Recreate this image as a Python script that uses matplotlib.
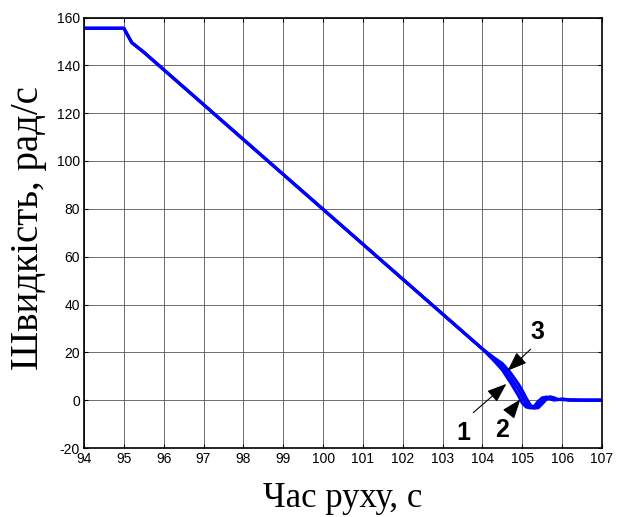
import matplotlib
matplotlib.use("Agg")
import matplotlib.pyplot as plt
import numpy as np

plt.rcParams["axes.unicode_minus"] = False

# time points (s)
t = [94, 95, 95.2, 95.5, 96, 97, 98, 99, 100, 101, 102, 103, 104, 104.3, 104.5,
     104.7, 104.9, 105.0, 105.1, 105.2, 105.3, 105.4, 105.5, 105.6, 105.7, 105.8,
     105.9, 106.0, 106.2, 106.5, 107]
common = [155.5, 155.5, 149.5, 145.5, 138.2, 123.6, 109.0, 94.4, 79.8, 65.2, 50.6, 36.0, 21.4]
w1 = common + [16.3, 12.6, 7.5, 2.0, -1.2, -2.9, -3.2, -2.5, -0.5, 1.0, 1.2, 0.5, 0.0, 0.3, 0.2, 0.0, 0.0, 0.0]
w2 = common + [17.0, 14.0, 9.5, 4.5, 1.5, -1.5, -3.2, -3.3, -2.0, 0.0, 1.3, 1.2, 0.4, 0.2, 0.4, 0.1, 0.0, 0.0]
w3 = common + [17.6, 15.3, 11.5, 6.8, 4.0, 0.8, -2.0, -3.3, -3.2, -1.5, 0.3, 1.4, 1.0, 0.3, 0.5, 0.1, 0.0, 0.0]

xticks = list(range(94, 108))
yticks = list(range(-20, 161, 20))

labels = ["1", "2", "3"]
label_pos = [(103.52, -13.6), (104.49, -12.5), (105.39, 28.6)]
arrow_tail = [(103.77, -5.2), (104.72, -4.5), (105.21, 21.3)]
arrow_head = [(104.6, 6.8), (104.95, 0.3), (104.63, 12.3)]

fig = plt.figure(figsize=(6.22, 5.17), dpi=100)
ax = fig.add_axes([84/622, 1-448/517, 518/622, 430.5/517])

for w in (w1, w2, w3):
    ax.plot(t, w, color=(0, 0, 1), lw=2.2, solid_joinstyle="round")

ax.set_xlim(94, 107)
ax.set_ylim(-20, 160)
ax.set_xticks(xticks)
ax.set_yticks(yticks)
ax.grid(True, color="#555555", lw=0.6)
ax.tick_params(direction="in", length=3, top=True, right=True, labelsize=10, pad=3, width=0.8)
for lab in ax.get_xticklabels() + ax.get_yticklabels():
    lab.set_family("Liberation Sans")
for s in ax.spines.values():
    s.set_linewidth(1.2)

ax.set_xlabel("Час руху, с", family="Liberation Serif", fontsize=25, labelpad=0)
ax.set_ylabel("Швидкість, рад/с", family="Liberation Serif", fontsize=28, labelpad=0)
ax.yaxis.set_label_coords(-0.072, 0.511)
ax.xaxis.set_label_coords(0.5, -0.08)

for lab, (lx, ly), tail, head in zip(labels, label_pos, arrow_tail, arrow_head):
    ax.text(lx, ly, lab, family="Liberation Sans", fontweight="bold", fontsize=18,
            ha="center", va="center")
    ax.annotate("", xy=head, xytext=tail,
                arrowprops=dict(arrowstyle="-|>,head_length=1.2,head_width=0.45",
                                color="black", lw=0.8, shrinkA=0, shrinkB=0))

fig.savefig("out.png", dpi=100)
